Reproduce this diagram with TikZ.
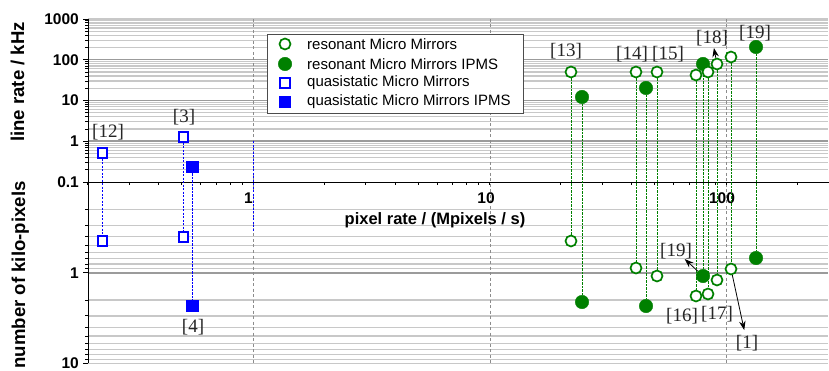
\documentclass[tikz,border=0pt]{standalone}
\usepackage{fontspec}
\setmainfont{Liberation Serif}
\setsansfont{Liberation Sans}
\usetikzlibrary{arrows.meta}
\definecolor{mgreen}{RGB}{0,128,0}
\definecolor{mblue}{RGB}{0,0,255}
\definecolor{gridminor}{RGB}{200,200,200}
\definecolor{gridmajor}{RGB}{155,155,155}
\begin{document}
\begin{tikzpicture}[x=1pt,y=-1pt,
  opencirc/.style={circle,draw=mgreen,line width=1.7pt,fill=white,minimum size=11pt,inner sep=0pt},
  fullcirc/.style={circle,fill=mgreen,draw=mgreen,line width=0.4pt,minimum size=13.5pt,inner sep=0pt},
  opensq/.style={rectangle,draw=mblue,line width=1.6pt,fill=white,minimum size=9.5pt,inner sep=0pt},
  fullsq/.style={rectangle,fill=mblue,minimum size=12.5pt,inner sep=0pt},
  gline/.style={mgreen,line width=0.95pt,dash pattern=on 2.2pt off 1.3pt},
  bline/.style={mblue,line width=1pt,dash pattern=on 2.2pt off 1.3pt},
  reflab/.style={font=\fontsize{19}{19}\selectfont,text=black!85,inner sep=0pt},
  ticklab/.style={font=\sffamily\bfseries\fontsize{15.5}{15.5}\selectfont,inner sep=0pt},
  axtitle/.style={font=\sffamily\bfseries\fontsize{18.6}{18.6}\selectfont,inner sep=0pt},
  leglab/.style={font=\sffamily\fontsize{15}{15}\selectfont,inner sep=0pt,anchor=west},
  arr/.style={black,line width=0.8pt,-{Stealth[length=9pt,width=6.5pt]}},
  minorgrid/.style={gridminor,line width=1.2pt},
  majorgrid/.style={gridmajor,line width=1.5pt},
  vgrid/.style={black!45,line width=0.8pt,dash pattern=on 3pt off 2.5pt},
  axisl/.style={black,line width=0.9pt},
]
\useasboundingbox (0,0) rectangle (829,371);
% upper grid
\foreach \n in {-1,0,1,2}{
  \foreach \k in {2,...,9}{
    \pgfmathsetmacro\yy{141.25-40.75*(\n+ln(\k)/ln(10))}
    \draw[minorgrid] (88,\yy) -- (828,\yy);
    \draw[axisl] (85,\yy) -- (88,\yy);
  }
}
\draw[minorgrid] (88,19) -- (828,19);
\foreach \yy in {141.25,100.5,59.75} \draw[majorgrid] (88,\yy) -- (828,\yy);
% lower grid
\foreach \n in {-1,0}{
  \foreach \k in {2,...,9}{
    \pgfmathsetmacro\yy{272.75+90.5*(\n+ln(\k)/ln(10))}
    \draw[minorgrid] (88,\yy) -- (828,\yy);
    \draw[axisl] (85,\yy) -- (88,\yy);
  }
}
\draw[minorgrid] (88,363.25) -- (828,363.25);
\draw[majorgrid] (88,272.75) -- (828,272.75);
% vertical dashed grid
\foreach \xx in {253,490,726} \draw[vgrid] (\xx,19) -- (\xx,363.25);
% axes
\draw[axisl] (88,19) -- (88,363.25);
\draw[axisl] (88,182) -- (829,182);
\foreach \yy in {19,59.75,100.5,141.25,182,272.75,363.25} \draw[axisl] (83,\yy) -- (88,\yy);
\foreach \n/\ks in {-1/{2,3,4,5,6,7,8,9},0/{1,2,3,4,5,6,7,8,9},1/{1,2,3,4,5,6,7,8,9},2/{1,2}}{
  \foreach \k in \ks{
    \pgfmathsetmacro\xx{253+236.5*(\n+ln(\k)/ln(10))}
    \draw[axisl] (\xx,182) -- (\xx,185);
  }
}
% tick labels
\node[ticklab,anchor=east] (t1000) at (79,19) {1000};
\node[ticklab,anchor=east] (t100) at (79,59.75) {100};
\node[ticklab,anchor=east] (t10) at (79,100.5) {10};
\node[ticklab,anchor=east] (t1) at (79,141.25) {1};
\node[ticklab,anchor=east] (t01) at (79,182) {0.1};
\node[ticklab,anchor=east] (b1) at (79,272.75) {1};
\node[ticklab,anchor=east] (b10) at (79,363.25) {10};
\node[ticklab] (x1) at (248.5,198) {1};
\node[ticklab] (x10) at (486,198) {10};
\node[ticklab] (x100) at (722,198) {100};
% axis titles
\node[axtitle,rotate=90,anchor=base] (ytu) at (24,82) {line rate / kHz};
\node[axtitle,rotate=90,anchor=base] (ytl) at (25,275) {number of kilo-pixels};
\node[font=\sffamily\bfseries\fontsize{16.5}{16.5}\selectfont,inner sep=0pt] (xt) at (435,220) {pixel rate / (Mpixels / s)};
% blue stray line at x=1
\coordinate (bs1) at (253,141.25);
\coordinate (bs2) at (253,232);
\draw[bline] (bs1) -- (bs2);
% blue data
\node[opensq] (q1u) at (102.5,153) {};
\node[opensq] (q1l) at (102.5,241) {};
\node[opensq] (q2u) at (183.5,137) {};
\node[opensq] (q2l) at (183.5,237) {};
\node[fullsq] (q3u) at (192.5,167) {};
\node[fullsq] (q3l) at (192.5,306) {};
\draw[bline] (q1u) -- (q1l);
\draw[bline] (q2u) -- (q2l);
\draw[bline] (q3u) -- (q3l);
% green data
\foreach \nm/\xx/\yu/\yl/\st in {g1/571/72/241/opencirc, g2/582/97/302/fullcirc, g3/636/72/268/opencirc,
  g4/646/88/306/fullcirc, g5/657/72/276/opencirc, g6/696/75/296/opencirc, g7/703/64/276/fullcirc,
  g8/708/72/294/opencirc, g9/717/64/280/opencirc, g10/731/57/269/opencirc, g11/756/47/258/fullcirc}{
  \node[\st] (\nm u) at (\xx,\yu) {};
  \node[\st] (\nm l) at (\xx,\yl) {};
  \draw[gline] (\nm u) -- (\nm l);
}
% legend
\node[draw=black!70,line width=0.8pt,fill=white,minimum width=256pt,minimum height=79pt,inner sep=0pt] (leg) at (395,73.5) {};
\node[opencirc] (lm1) at (285,44) {};
\node[fullcirc] (lm2) at (285,64) {};
\node[opensq] (lm3) at (285,83) {};
\node[fullsq] (lm4) at (285,102) {};
\node[leglab] (lt1) at (307,44) {resonant Micro Mirrors};
\node[leglab] (lt2) at (307,64) {resonant Micro Mirrors IPMS};
\node[leglab] (lt3) at (307,83) {quasistatic Micro Mirrors};
\node[leglab] (lt4) at (307,102) {quasistatic Micro Mirrors IPMS};
% reference labels
\node[reflab] (r12) at (108,132) {[12]};
\node[reflab] (r3) at (184,117) {[3]};
\node[reflab] (r4) at (193,327) {[4]};
\node[reflab] (r13) at (566,51) {[13]};
\node[reflab] (r14) at (632,54) {[14]};
\node[reflab] (r15) at (668,54) {[15]};
\node[reflab] (r18) at (712,38) {[18]};
\node[reflab] (r19) at (755,33) {[19]};
\node[reflab] (r19b) at (676,251) {[19]};
\node[reflab] (r16) at (682,316) {[16]};
\node[reflab] (r17) at (717,314) {[17]};
\node[reflab] (r1) at (747,343) {[1]};
% arrows
\draw[arr,shorten >=2pt] (g9u) -- (r18);
\draw[arr] (g7l) -- (r19b);
\draw[arr,shorten >=5pt] (g10l) -- (r1);
\end{tikzpicture}
\end{document}
